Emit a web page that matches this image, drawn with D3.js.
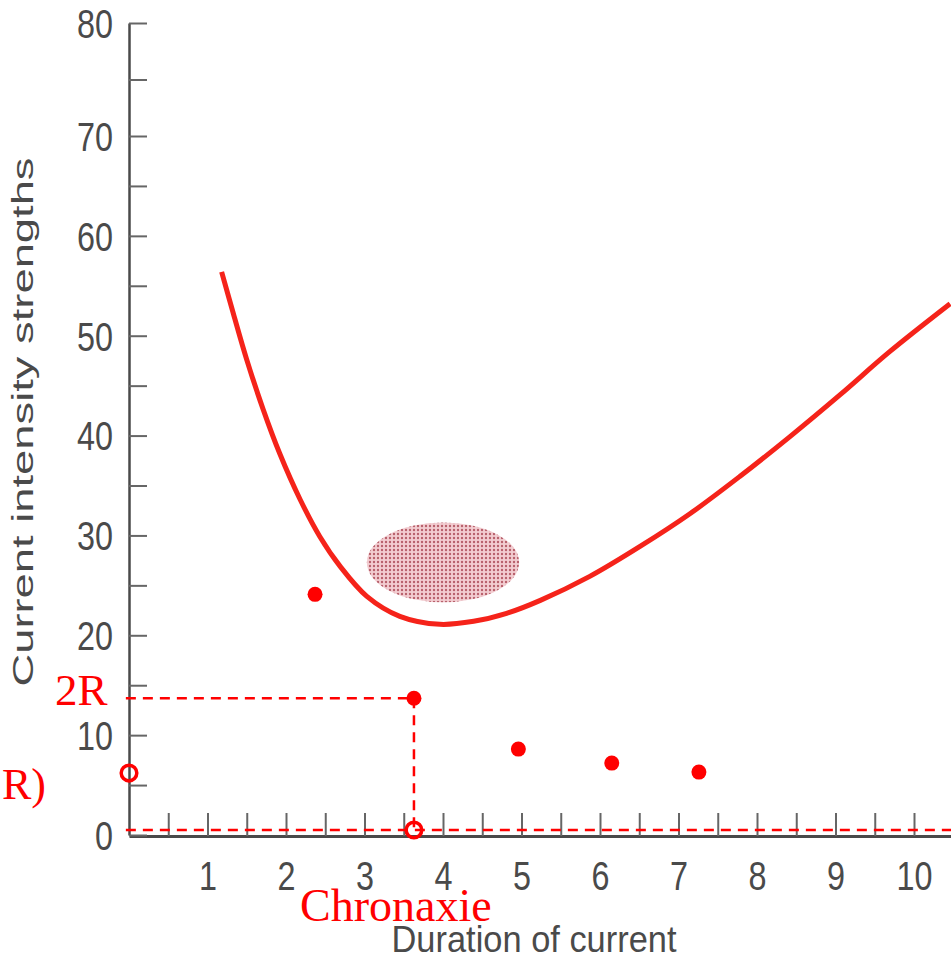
<!DOCTYPE html>
<html><head><meta charset="utf-8">
<script src="https://cdn.jsdelivr.net/npm/d3@7"></script>
<style>html,body{margin:0;padding:0;background:#fff;overflow:hidden}</style>
</head><body>
<svg id="chart" width="951" height="961"></svg>
<script>
// ---- data ----
const curveDuration = [1.18, 1.33, 1.50, 1.71, 1.92, 2.18, 2.43, 2.69, 3.03, 3.45, 3.96, 4.39, 4.81, 5.24, 5.87, 6.51, 7.15, 7.78, 8.42, 9.06, 9.69, 10.46];
const curveStrength = [56.4, 52.2, 47.6, 42.6, 38.2, 33.6, 29.9, 26.9, 23.9, 21.9, 21.1, 21.4, 22.2, 23.5, 25.9, 28.9, 32.2, 35.9, 39.9, 44.1, 48.4, 53.2];
const dotDuration = [2.37, 3.63, 4.96, 6.15, 7.26];
const dotStrength = [24.1, 13.7, 8.6, 7.2, 6.3];
const hollowDuration = [0, 3.63];   // rheobase, chronaxie
const hollowStrength = [6.2, 0.5];
const twoR = [3.63, 13.7];
const ellipseCenter = [4.0, 27.3];
const ellipseRadii = [0.97, 4.0];
const xTicks = [0.5, 1, 1.5, 2, 2.5, 3, 3.5, 4, 4.5, 5, 5.5, 6, 6.5, 7, 7.5, 8, 8.5, 9, 9.5, 10];
const yTicks = [0, 5, 10, 15, 20, 25, 30, 35, 40, 45, 50, 55, 60, 65, 70, 75, 80];
const xTitle = "Duration of current";
const yTitle = "Current intensity strengths";
const labels = {twoR: "2R", rheo: "R)", chron: "Chronaxie"};

// ---- scales ----
const svg = d3.select("#chart");
const x = d3.scaleLinear().domain([0, 10.5]).range([129, 129 + 10.5 * 78.5]);
const y = d3.scaleLinear().domain([0, 70, 80]).range([835, 136, 23]);
const gray = "#4a4a4a";
const sans = "'Liberation Sans', Arial, sans-serif";
const serif = "'Liberation Serif', 'Times New Roman', serif";

// pattern for ellipse
const defs = svg.append("defs");
const pat = defs.append("pattern").attr("id", "dots").attr("patternUnits", "userSpaceOnUse")
  .attr("width", 4).attr("height", 4);
pat.append("rect").attr("width", 4).attr("height", 4).attr("fill", "#f3cdd1");
pat.append("circle").attr("cx", 2).attr("cy", 2).attr("r", 1.2).attr("fill", "#b8606c");

// ---- axes ----
const gx = svg.append("g").attr("transform", `translate(0,${y(0) + 1})`)
  .call(d3.axisBottom(x).tickValues(xTicks).tickSize(-23).tickSizeOuter(0).tickPadding(26)
    .tickFormat(d => Number.isInteger(d) ? d : ""));
gx.select(".domain").attr("stroke", gray).attr("stroke-width", 3);
gx.selectAll(".tick line").attr("stroke", "#666").attr("stroke-width", 2);
gx.selectAll(".tick text").attr("fill", gray).attr("font-family", sans).attr("font-size", 40)
  .each(function(d){ const t = String(d3.select(this).text()); if (t) d3.select(this).attr("textLength", 18 * t.length).attr("lengthAdjust", "spacingAndGlyphs"); });

const gy = svg.append("g").attr("transform", `translate(${x(0)},0)`)
  .call(d3.axisLeft(y).tickValues(yTicks).tickSize(-18).tickSizeOuter(0).tickPadding(16)
    .tickFormat(d => d % 10 === 0 ? d : ""));
gy.select(".domain").attr("stroke", gray).attr("stroke-width", 2.5);
gy.selectAll(".tick line").attr("stroke", "#666").attr("stroke-width", 2);
gy.selectAll(".tick text").attr("fill", gray).attr("font-family", sans).attr("font-size", 40).attr("dy", "0.36em")
  .each(function(d){ const t = String(d3.select(this).text()); if (t) d3.select(this).attr("textLength", 18 * t.length).attr("lengthAdjust", "spacingAndGlyphs"); });

// axis titles
svg.append("text").attr("x", 534).attr("y", 952).attr("text-anchor", "middle")
  .attr("font-family", sans).attr("font-size", 37).attr("fill", gray)
  .attr("textLength", 285).attr("lengthAdjust", "spacingAndGlyphs").text(xTitle);
svg.append("text").attr("transform", "translate(33,422) rotate(-90)").attr("text-anchor", "middle")
  .attr("font-family", sans).attr("font-size", 29).attr("fill", gray)
  .attr("textLength", 529).attr("lengthAdjust", "spacingAndGlyphs").text(yTitle);

// ---- ellipse ----
svg.append("ellipse")
  .attr("cx", x(ellipseCenter[0])).attr("cy", y(ellipseCenter[1]))
  .attr("rx", x(ellipseCenter[0] + ellipseRadii[0]) - x(ellipseCenter[0]))
  .attr("ry", y(ellipseCenter[1] - ellipseRadii[1]) - y(ellipseCenter[1]))
  .attr("fill", "url(#dots)");

// ---- curve ----
const curveData = curveDuration.map((d, i) => [d, curveStrength[i]]);
svg.append("path").datum(curveData)
  .attr("d", d3.line().x(d => x(d[0])).y(d => y(d[1])).curve(d3.curveCatmullRom.alpha(0.5)))
  .attr("fill", "none").attr("stroke", "#f5231a").attr("stroke-width", 5);

// ---- dashed guides ----
const red = "#ff0000";
const dash = "10,7";
const guides = [
  [[-0.04, twoR[1]], [twoR[0], twoR[1]]],
  [[twoR[0], twoR[1]], [hollowDuration[1], hollowStrength[1]]],
  [[-0.04, hollowStrength[1]], [10.5, hollowStrength[1]]]
];
svg.selectAll(".guide").data(guides).enter().append("line")
  .attr("x1", d => x(d[0][0])).attr("y1", d => y(d[0][1]))
  .attr("x2", d => x(d[1][0])).attr("y2", d => y(d[1][1]))
  .attr("stroke", red).attr("stroke-width", 2.5).attr("stroke-dasharray", dash);

// ---- dots ----
svg.selectAll(".dot").data(dotDuration.map((d, i) => [d, dotStrength[i]])).enter().append("circle")
  .attr("cx", d => x(d[0])).attr("cy", d => y(d[1])).attr("r", 7.5).attr("fill", red);
svg.selectAll(".hollow").data(hollowDuration.map((d, i) => [d, hollowStrength[i]])).enter().append("circle")
  .attr("cx", d => x(d[0])).attr("cy", d => y(d[1])).attr("r", 7.8)
  .attr("fill", "none").attr("stroke", red).attr("stroke-width", 3.5);

// ---- red labels ----
svg.append("text").attr("x", 55).attr("y", 705).attr("font-family", serif).attr("font-size", 45)
  .attr("fill", red).text(labels.twoR);
svg.append("text").attr("x", 2).attr("y", 799).attr("font-family", serif)
  .attr("font-size", 44).attr("fill", red).text(labels.rheo);
svg.append("text").attr("x", 300).attr("y", 921).attr("font-family", serif).attr("font-size", 46)
  .attr("fill", red).text(labels.chron);
</script>
</body></html>
